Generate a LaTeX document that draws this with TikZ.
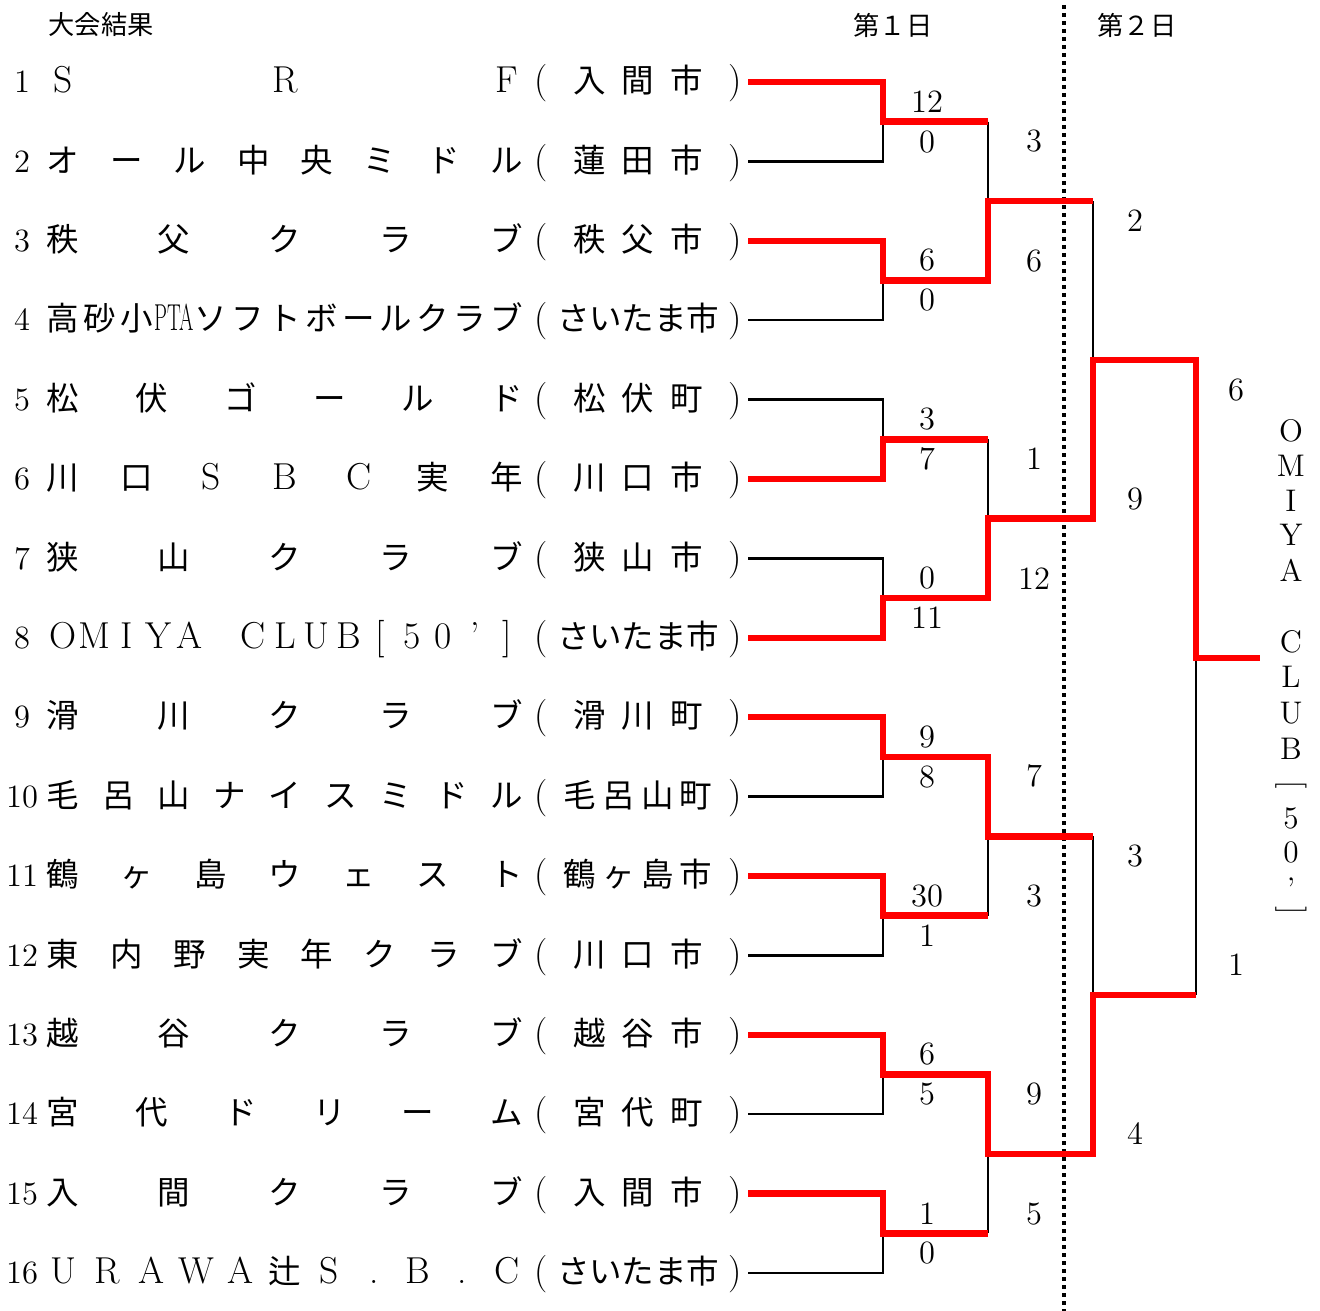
\documentclass[tikz,border=0pt]{standalone}
\usepackage{fontspec}
\newfontfamily\jfont{Noto Sans CJK JP}
\usepackage{tikz}

\newcommand{\lat}{\rmfamily\fontsize{15}{17}\selectfont}

\tikzstyle{loseline} = [draw, line width=1pt]
\tikzstyle{winline} = [draw, red, line width=2.6pt]
\tikzstyle{daysplit} = [draw, line width=1.4pt, dash pattern=on 1.6pt off 1.6pt]
\tikzstyle{tok} = [inner sep=0pt, text height=10pt, text depth=1.5pt, font=\jfont\fontsize{13}{15}\selectfont]
\tikzstyle{seed} = [inner sep=0pt, text height=10pt, text depth=1.5pt, font=\fontsize{13}{15}\selectfont]
\tikzstyle{score} = [inner sep=0pt, font=\fontsize{13}{15}\selectfont]
\tikzstyle{vletter} = [inner sep=0pt, font=\fontsize{12.5}{14}\selectfont]
\tikzstyle{daylabel} = [inner sep=0pt, font=\jfont\fontsize{10.5}{12}\selectfont]

% spread tokens evenly between two x positions
\newcommand{\spreadrow}[5]{%
  \foreach \tk [count=\tn] in {#5} {\xdef\tokcount{\tn}}%
  \foreach \tk [count=\ti] in {#5} {%
    \ifx\tk\empty\else
      \pgfmathsetmacro\tokx{#3+(\ti-1)*(#4-#3)/(\tokcount-1)}%
      \node[tok] (#1-\ti) at (\tokx,#2) {\tk};
    \fi
  }%
}
\newcommand{\teamrow}[3]{%
  \pgfmathsetmacro\rowy{82+(#1-1)*79.4}%
  \node[seed] (num#1) at (22,\rowy) {#1};
  \spreadrow{nm#1}{\rowy}{63}{507}{#2}
  \spreadrow{ct#1}{\rowy}{541}{735}{\lat (,#3,\lat )}
  \coordinate (s#1) at (748,\rowy);
}

\begin{document}
\begin{tikzpicture}[x=0.4pt, y=-0.4pt]
\useasboundingbox (0,0) rectangle (1320,1311);

\node[daylabel, anchor=west] (title) at (48,25) {大会結果};
\node[daylabel] (day1) at (893,25) {第１日};
\node[daylabel] (day2) at (1137,25) {第２日};

\coordinate (splittop) at (1064,5);
\coordinate (splitbot) at (1064,1311);
\path[daysplit] (splittop) -- (splitbot);

\teamrow{1}{\lat S,\lat R,\lat F}{入,間,市}
\teamrow{2}{オ,ー,ル,中,央,ミ,ド,ル}{蓮,田,市}
\teamrow{3}{秩,父,ク,ラ,ブ}{秩,父,市}
\teamrow{4}{高,砂,小,\scalebox{0.55}[1]{\lat PTA},ソ,フ,ト,ボ,ー,ル,ク,ラ,ブ}{さ,い,た,ま,市}
\teamrow{5}{松,伏,ゴ,ー,ル,ド}{松,伏,町}
\teamrow{6}{川,口,\lat S,\lat B,\lat C,実,年}{川,口,市}
\teamrow{7}{狭,山,ク,ラ,ブ}{狭,山,市}
\teamrow{8}{\lat O,\lat M,\lat I,\lat Y,\lat A,{},\lat C,\lat L,\lat U,\lat B,\lat [,\lat 5,\lat 0,\lat ’,\lat ]}{さ,い,た,ま,市}
\teamrow{9}{滑,川,ク,ラ,ブ}{滑,川,町}
\teamrow{10}{毛,呂,山,ナ,イ,ス,ミ,ド,ル}{毛,呂,山,町}
\teamrow{11}{鶴,ヶ,島,ウ,ェ,ス,ト}{鶴,ヶ,島,市}
\teamrow{12}{東,内,野,実,年,ク,ラ,ブ}{川,口,市}
\teamrow{13}{越,谷,ク,ラ,ブ}{越,谷,市}
\teamrow{14}{宮,代,ド,リ,ー,ム}{宮,代,町}
\teamrow{15}{入,間,ク,ラ,ブ}{入,間,市}
\teamrow{16}{\lat U,\lat R,\lat A,\lat W,\lat A,辻,\lat S,\lat .,\lat B,\lat .,\lat C}{さ,い,た,ま,市}

\coordinate (m1) at (883,121.7);  \coordinate (mo1) at (988,121.7);
\coordinate (m2) at (883,280.5);  \coordinate (mo2) at (988,280.5);
\coordinate (m3) at (883,439.3);  \coordinate (mo3) at (988,439.3);
\coordinate (m4) at (883,598.1);  \coordinate (mo4) at (988,598.1);
\coordinate (m5) at (883,756.9);  \coordinate (mo5) at (988,756.9);
\coordinate (m6) at (883,915.7);  \coordinate (mo6) at (988,915.7);
\coordinate (m7) at (883,1074.5); \coordinate (mo7) at (988,1074.5);
\coordinate (m8) at (883,1233.3); \coordinate (mo8) at (988,1233.3);
\coordinate (qf1) at (988,201.1);  \coordinate (qo1) at (1093,201.1);
\coordinate (qf2) at (988,518.7);  \coordinate (qo2) at (1093,518.7);
\coordinate (qf3) at (988,836.3);  \coordinate (qo3) at (1093,836.3);
\coordinate (qf4) at (988,1153.9); \coordinate (qo4) at (1093,1153.9);
\coordinate (sf1) at (1093,359.9); \coordinate (so1) at (1196,359.9);
\coordinate (sf2) at (1093,995.1); \coordinate (so2) at (1196,995.1);
\coordinate (fin) at (1196,658);   \coordinate (champ) at (1260,658);

\path[loseline] (s2) -| (m1);
\path[loseline] (s4) -| (m2);
\path[loseline] (s5) -| (m3);
\path[loseline] (s7) -| (m4);
\path[loseline] (s10) -| (m5);
\path[loseline] (s12) -| (m6);
\path[loseline] (s14) -| (m7);
\path[loseline] (s16) -| (m8);
\path[loseline] (mo1) -- (qf1);
\path[loseline] (mo3) -- (qf2);
\path[loseline] (mo6) -- (qf3);
\path[loseline] (mo8) -- (qf4);
\path[loseline] (qo1) -- (sf1);
\path[loseline] (qo3) -- (sf2);
\path[loseline] (so2) -- (fin);

\path[winline] (s1) -| (m1) -- (mo1);
\path[winline] (s3) -| (m2) -- (mo2);
\path[winline] (s6) -| (m3) -- (mo3);
\path[winline] (s8) -| (m4) -- (mo4);
\path[winline] (s9) -| (m5) -- (mo5);
\path[winline] (s11) -| (m6) -- (mo6);
\path[winline] (s13) -| (m7) -- (mo7);
\path[winline] (s15) -| (m8) -- (mo8);
\path[winline] (m2) -- (mo2) -- (qf1) -- (qo1);
\path[winline] (m4) -- (mo4) -- (qf2) -- (qo2);
\path[winline] (m5) -- (mo5) -- (qf3) -- (qo3);
\path[winline] (m7) -- (mo7) -- (qf4) -- (qo4);
\path[winline] (qf2) -- (qo2) -- (sf1) -- (so1);
\path[winline] (qf4) -- (qo4) -- (sf2) -- (so2);
\path[winline] (sf1) -- (so1) -- (fin) -- (champ);

\node[score] (g1a) at (927,101.7) {12};
\node[score] (g1b) at (927,141.7) {0};
\node[score] (g2a) at (927,260.5) {6};
\node[score] (g2b) at (927,300.5) {0};
\node[score] (g3a) at (927,419.3) {3};
\node[score] (g3b) at (927,459.3) {7};
\node[score] (g4a) at (927,578.1) {0};
\node[score] (g4b) at (927,618.1) {11};
\node[score] (g5a) at (927,736.9) {9};
\node[score] (g5b) at (927,776.9) {8};
\node[score] (g6a) at (927,895.7) {30};
\node[score] (g6b) at (927,935.7) {1};
\node[score] (g7a) at (927,1054.5) {6};
\node[score] (g7b) at (927,1094.5) {5};
\node[score] (g8a) at (927,1213.3) {1};
\node[score] (g8b) at (927,1253.3) {0};

\node[score] (h1a) at (1034,141.1) {3};
\node[score] (h1b) at (1034,261.1) {6};
\node[score] (h2a) at (1034,458.7) {1};
\node[score] (h2b) at (1034,578.7) {12};
\node[score] (h3a) at (1034,776.3) {7};
\node[score] (h3b) at (1034,896.3) {3};
\node[score] (h4a) at (1034,1093.9) {9};
\node[score] (h4b) at (1034,1213.9) {5};

\node[score] (k1a) at (1135,221) {2};
\node[score] (k1b) at (1135,499) {9};
\node[score] (k2a) at (1135,856) {3};
\node[score] (k2b) at (1135,1134) {4};

\node[score] (fa) at (1236,390) {6};
\node[score] (fb) at (1236,965) {1};

\foreach \ch/\vy [count=\vi] in {O/431, M/466, I/501, Y/535, A/570, C/642, L/677, U/713, B/749, 5/818, 0/852}
  \node[vletter] (club\vi) at (1291,\vy) {\ch};
\node[vletter] (clubquote) at (1291,889) {’};
\node[vletter, rotate=-90] (clubopen) at (1291,785) {[};
\node[vletter, rotate=-90] (clubclose) at (1291,911) {]};
\end{tikzpicture}
\end{document}
